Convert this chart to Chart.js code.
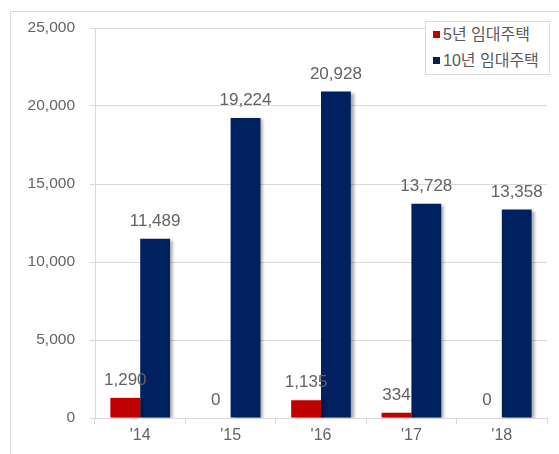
<!DOCTYPE html>
<html>
<head>
<meta charset="utf-8">
<script src="https://cdn.jsdelivr.net/npm/chart.js@4/dist/chart.umd.min.js"></script>
<style>
  html, body { margin: 0; padding: 0; background: #fff; }
  #wrap { position: relative; width: 559px; height: 454px; }
  #frame { position: absolute; left: 10px; top: 11px; right: 0; bottom: 0;
           border-left: 1px solid #d9d9d9; border-top: 1px solid #d9d9d9; }
  #legend { position: absolute; left: 425px; top: 21px; width: 125px; height: 54px;
            border: 1px solid #d9d9d9; background: #fff; box-sizing: border-box;
            font-family: "Liberation Sans", "Noto Sans CJK KR", sans-serif; font-size: 16px; color: #595959; }
  #legend div { position: absolute; left: 7px; white-space: nowrap; line-height: 20px; }
  #legend span { display: inline-block; width: 7px; height: 7px; margin-right: 3px; vertical-align: 2px; }
</style>
</head>
<body>
<div id="wrap">
  <div id="frame"></div>
  <canvas id="myChart" width="559" height="454"></canvas>
  <div id="legend"></div>
</div>
<script>
// chart data
var categories = ["'14", "'15", "'16", "'17", "'18"];
var seriesNames = ['5년 임대주택', '10년 임대주택'];
var fiveYear = [1290, 0, 1135, 334, 0];
var tenYear = [11489, 19224, 20928, 13728, 13358];
var colors = ['#c00000', '#002060'];

var font = "'Liberation Sans', 'Noto Sans CJK KR', sans-serif";

// soft shadow on bars
var barShadow = {
    id: 'barShadow',
    beforeDatasetsDraw: function (chart) {
        var ctx = chart.ctx;
        ctx.save();
        ctx.shadowColor = 'rgba(0,0,0,0.35)';
        ctx.shadowOffsetX = 3;
        ctx.shadowOffsetY = 1;
        ctx.shadowBlur = 3;
    },
    afterDatasetsDraw: function (chart) {
        chart.ctx.restore();
    }
};

// value labels above the bars
var valueLabels = {
    id: 'valueLabels',
    afterDraw: function (chart) {
        var ctx = chart.ctx;
        ctx.save();
        ctx.font = '17px ' + font;
        ctx.fillStyle = '#636363';
        ctx.textAlign = 'center';
        ctx.textBaseline = 'bottom';
        chart.data.datasets.forEach(function (ds, i) {
            chart.getDatasetMeta(i).data.forEach(function (bar, j) {
                ctx.fillText(ds.data[j].toLocaleString('en-US'), bar.x, bar.y - 9);
            });
        });
        ctx.restore();
    }
};

var ctx = document.getElementById('myChart').getContext('2d');
var chart = new Chart(ctx, {
    type: 'bar',
    data: {
        labels: categories,
        datasets: [{
            label: seriesNames[0],
            data: fiveYear,
            backgroundColor: colors[0]
        }, {
            label: seriesNames[1],
            data: tenYear,
            backgroundColor: colors[1]
        }]
    },
    options: {
        responsive: false,
        animation: false,
        layout: { padding: { left: 10, right: 12, top: 28, bottom: 6 } },
        datasets: { bar: { categoryPercentage: 0.66, barPercentage: 1 } },
        plugins: { legend: { display: false }, tooltip: { enabled: false } },
        scales: {
            x: {
                grid: { display: true, drawOnChartArea: false, offset: true, tickLength: 6, color: '#d9d9d9' },
                border: { color: '#d9d9d9' },
                ticks: { font: { family: font, size: 16 }, color: '#636363', padding: 2 },
                afterFit: function (scale) { scale.height = 30; }
            },
            y: {
                min: 0,
                max: 25000,
                grid: { color: '#d9d9d9', tickLength: 5 },
                border: { color: '#d9d9d9' },
                ticks: {
                    stepSize: 5000,
                    font: { family: font, size: 15.5 },
                    color: '#636363',
                    padding: 15,
                    callback: function (v) { return v.toLocaleString('en-US'); }
                },
                afterFit: function (scale) { scale.width = 85; }
            }
        }
    },
    plugins: [barShadow, valueLabels]
});

// legend from the series
var legend = document.getElementById('legend');
seriesNames.forEach(function (name, i) {
    var row = document.createElement('div');
    row.style.top = (i === 0 ? 3 : 29) + 'px';
    row.innerHTML = '<span style="background:' + colors[i] + '"></span>' + name;
    legend.appendChild(row);
});
</script>
</body>
</html>
